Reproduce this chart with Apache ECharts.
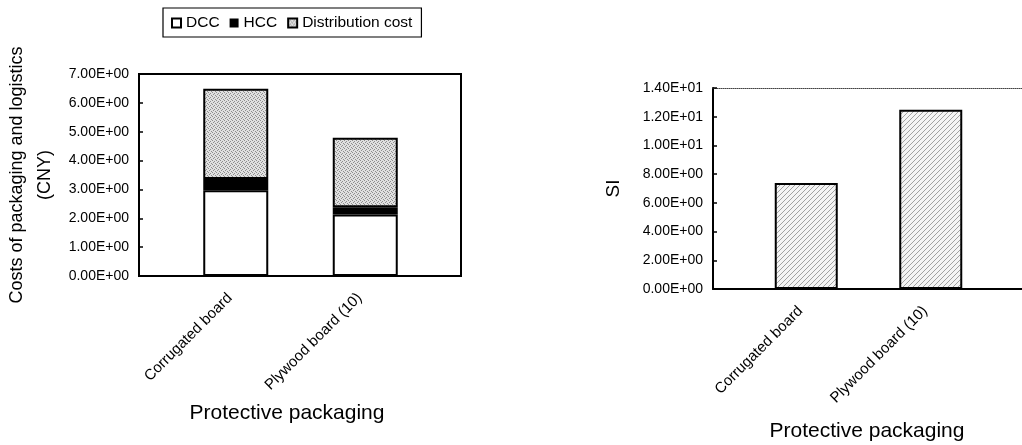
<!DOCTYPE html>
<html><head><meta charset="utf-8">
<script src="https://cdn.jsdelivr.net/npm/echarts@6/dist/echarts.min.js"></script>
<style>html,body{margin:0;padding:0;background:#fff}#c{width:1022px;height:445px}</style>
</head><body><div id="c"></div>
<script>
// ---- data ----
var categories = ['Corrugated board', 'Plywood board (10)'];
var dcc = [2.97, 2.13];
var hcc = [0.39, 0.25];
var distributionCost = [3.13, 2.41];
var si = [7.38, 12.49];
var costTicks = {min: 0, max: 7, interval: 1};
var siTicks = {min: 0, max: 14, interval: 2};

function sci(v) {
  var s = Number(v).toExponential(2).toUpperCase(); // e.g. 7.00E+0
  return s.replace(/E([+-])(\d)$/, 'E$10$2');
}
function stipple() {
  var c = document.createElement('canvas'); c.width = 4; c.height = 4;
  var g = c.getContext('2d');
  g.fillStyle = '#e0e0e0'; g.fillRect(0, 0, 4, 4);
  g.fillStyle = '#8e8e8e';
  g.fillRect(0, 0, 1, 1); g.fillRect(2, 1, 1, 1); g.fillRect(1, 2, 1, 1); g.fillRect(3, 3, 1, 1);
  return c;
}
function hatch() {
  var c = document.createElement('canvas'); c.width = 5; c.height = 5;
  var g = c.getContext('2d');
  g.fillStyle = '#f4f4f4'; g.fillRect(0, 0, 5, 5);
  g.strokeStyle = '#8c8c8c'; g.lineWidth = 0.8;
  g.beginPath(); g.moveTo(-1, 6); g.lineTo(6, -1); g.stroke();
  g.beginPath(); g.moveTo(-1, 1); g.lineTo(1, -1); g.stroke();
  g.beginPath(); g.moveTo(4, 6); g.lineTo(6, 4); g.stroke();
  return c;
}

var font = 'Liberation Sans, Arial, sans-serif';
var chart = echarts.init(document.getElementById('c'), null, {renderer: 'canvas'});
function catLabel() {
  return {rotate: 45, fontSize: 15, color: '#000', fontFamily: font, margin: 14, interval: 0,
          padding: [0, 8, 0, 0]};
}
function valLabel() {
  return {fontSize: 14, color: '#000', margin: 10, fontFamily: font, formatter: sci};
}
var hiddenAxis = function (g) {
  return {gridIndex: g, type: 'value', show: false, min: 0, max: 1};
};
chart.setOption({
  animation: false,
  textStyle: {fontFamily: font, color: '#000'},
  legend: {
    left: 163, top: 8, padding: [7, 9, 6, 8], itemGap: 10, itemWidth: 9, itemHeight: 9, icon: 'rect',
    borderColor: '#000', borderWidth: 1.2, selectedMode: false,
    textStyle: {fontSize: 15.5, color: '#000', fontFamily: font},
    data: ['DCC', 'HCC', 'Distribution cost']
  },
  grid: [
    {left: 171, top: 74, right: 592, bottom: 169},
    {left: 744, top: 88, right: 29, bottom: 156},
    {left: 139, top: 74, right: 561, bottom: 169, show: true, borderColor: '#000', borderWidth: 2},
    {left: 713, top: 88, right: -3, bottom: 156}
  ],
  xAxis: [
    {gridIndex: 0, type: 'category', data: categories,
     axisLine: {show: false}, axisTick: {show: false},
     axisLabel: catLabel(), name: 'Protective packaging', nameLocation: 'middle', nameGap: 127,
     nameTextStyle: {fontSize: 21, color: '#000', fontFamily: font, padding: [0, 27, 0, 0]}},
    {gridIndex: 1, type: 'category', data: categories,
     axisLine: {show: false}, axisTick: {show: false},
     axisLabel: catLabel(), name: 'Protective packaging', nameLocation: 'middle', nameGap: 132,
     nameTextStyle: {fontSize: 21, color: '#000', fontFamily: font, padding: [0, 3, 0, 0]}},
    hiddenAxis(2),
    {gridIndex: 3, type: 'value', min: 0, max: 1, position: 'bottom', splitLine: {show: false},
     axisLine: {show: true, onZero: false, lineStyle: {color: '#000', width: 2}},
     axisTick: {show: false}, axisLabel: {show: false}},
    {gridIndex: 3, type: 'value', min: 0, max: 1, position: 'top', splitLine: {show: false},
     axisLine: {show: true, onZero: false, lineStyle: {color: '#444', width: 1, type: 'dotted'}},
     axisTick: {show: false}, axisLabel: {show: false}}
  ],
  yAxis: [
    {gridIndex: 0, type: 'value', offset: 32, min: costTicks.min, max: costTicks.max, interval: costTicks.interval,
     splitLine: {show: false}, axisLine: {show: true, onZero: false, lineStyle: {color: '#000', width: 2}},
     axisTick: {show: true, inside: true, length: 4, lineStyle: {color: '#000', width: 1.5}},
     axisLabel: valLabel(),
     name: 'Costs of packaging and logistics\n(CNY)', nameLocation: 'middle', nameGap: 80,
     nameTextStyle: {fontSize: 18, lineHeight: 28, color: '#000', fontFamily: font}},
    {gridIndex: 1, type: 'value', offset: 31, min: siTicks.min, max: siTicks.max, interval: siTicks.interval,
     splitLine: {show: false}, axisLine: {show: true, onZero: false, lineStyle: {color: '#000', width: 2}},
     axisTick: {show: true, inside: true, length: 4, lineStyle: {color: '#000', width: 1.5}},
     axisLabel: valLabel(),
     name: 'SI', nameLocation: 'middle', nameGap: 90,
     nameTextStyle: {fontSize: 19, color: '#000', fontFamily: font}},
    hiddenAxis(2),
    hiddenAxis(3)
  ],
  series: [
    {name: 'DCC', type: 'bar', stack: 'cost', xAxisIndex: 0, yAxisIndex: 0, barWidth: 65,
     data: dcc, itemStyle: {color: '#fff', borderColor: '#000', borderWidth: 2}},
    {name: 'HCC', type: 'bar', stack: 'cost', xAxisIndex: 0, yAxisIndex: 0, barWidth: 65,
     data: hcc, itemStyle: {color: '#000', borderColor: '#000', borderWidth: 0}},
    {name: 'Distribution cost', type: 'bar', stack: 'cost', xAxisIndex: 0, yAxisIndex: 0, barWidth: 65,
     data: distributionCost,
     itemStyle: {color: {image: stipple(), repeat: 'repeat'}, borderColor: '#000', borderWidth: 2}},
    {name: 'SI', type: 'bar', xAxisIndex: 1, yAxisIndex: 1, barWidth: 63,
     data: si,
     itemStyle: {color: {image: hatch(), repeat: 'repeat'}, borderColor: '#000', borderWidth: 2}}
  ]
});
</script></body></html>
